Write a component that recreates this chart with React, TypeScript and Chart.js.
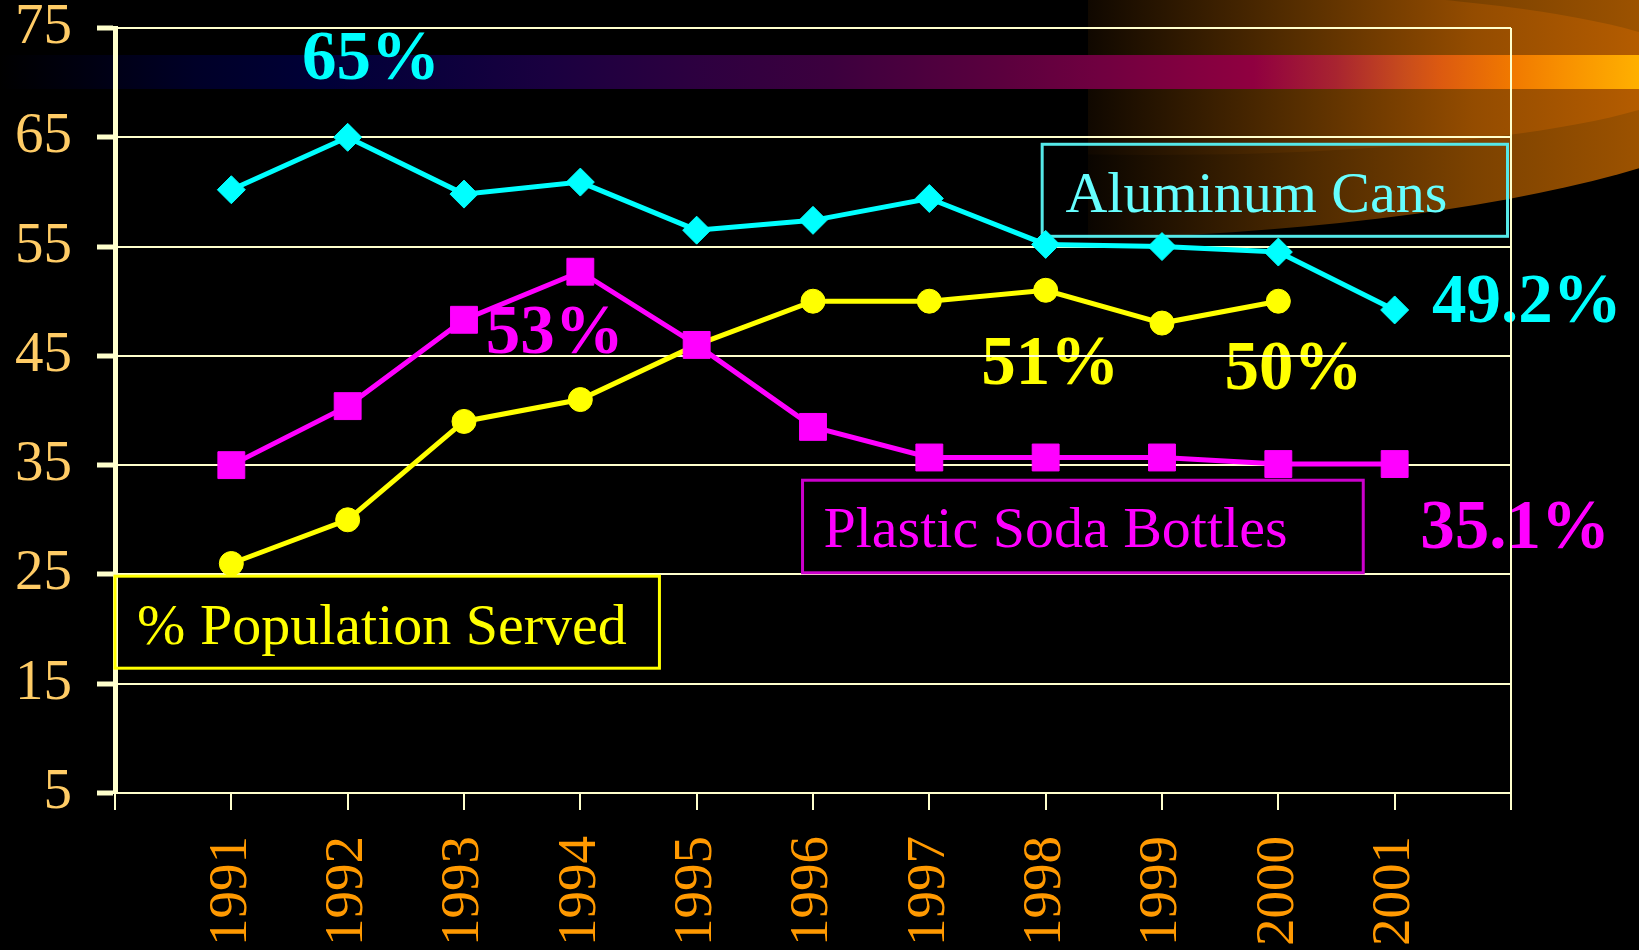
import React, { useEffect, useRef } from 'react';
import { Chart, registerables } from 'chart.js';

Chart.register(...registerables);

// ---- data ----
const years = ['1991', '1992', '1993', '1994', '1995', '1996', '1997', '1998', '1999', '2000', '2001'];
const aluminumCans = [60.2, 65.0, 59.8, 60.9, 56.5, 57.4, 59.4, 55.2, 55.0, 54.5, 49.2];
const plasticSodaBottles = [35.0, 40.4, 48.3, 52.7, 46.0, 38.5, 35.7, 35.7, 35.7, 35.1, 35.1];
const populationServed = [26.0, 30.0, 39.0, 41.0, 46.0, 50.0, 50.0, 51.0, 48.0, 50.0, null];
const yTickValues = [5, 15, 25, 35, 45, 55, 65, 75];

// value call-outs (year / value coordinates)
const callouts = [
  { text: '65%', color: '#00FFFF', year: 1992.2, value: 72.0, align: 'center' },
  { text: '53%', color: '#FF00FF', year: 1993.78, value: 46.9, align: 'center' },
  { text: '51%', color: '#FFFF00', year: 1998.04, value: 44.1, align: 'center' },
  { text: '50%', color: '#FFFF00', year: 2000.13, value: 43.6, align: 'center' },
  { text: '49.2%', color: '#00FFFF', year: 2001.32, value: 49.7, align: 'left' },
  { text: '35.1%', color: '#FF00FF', year: 2001.22, value: 29.05, align: 'left' },
];

// series label boxes
const seriesBoxes = [
  { text: 'Aluminum Cans', color: '#66FFFF', border: '#55E8E8', x0: 1997.97, x1: 2001.97, y0: 64.36, y1: 55.94, tx: 1998.17, ty: 58.14 },
  { text: 'Plastic Soda Bottles', color: '#FF00FF', border: '#CC00CC', x0: 1995.91, x1: 2000.73, y0: 33.62, y1: 25.15, tx: 1996.09, ty: 27.49 },
  { text: '% Population Served', color: '#FFFF00', border: '#FFFF00', x0: 1990.0, x1: 1994.68, y0: 24.84, y1: 16.42, tx: 1990.19, ty: 18.61 },
];

const FIRST_AXIS_YEAR = 1990;
const SERIF = "'Liberation Serif', 'Times New Roman', Times, serif";
const CREAM = '#FFFFCC';

const labels = ['', ...years, ''];
const pad = (arr: (number | null)[]) => [null, ...arr, null];

const backdropPlugin = {
  id: 'slideBackdrop',
  beforeDraw(chart: any) {
    const { ctx, width: W, height: H } = chart;
    ctx.save();
    ctx.fillStyle = '#000';
    ctx.fillRect(0, 0, W, H);

    // orange glow in the top-right corner
    ctx.save();
    ctx.beginPath();
    ctx.rect(1088, 0, W - 1088, H);
    ctx.clip();
    const g1 = ctx.createLinearGradient(1088, 0, W, 0);
    g1.addColorStop(0, '#0a0500');
    g1.addColorStop(0.4, '#4e2a00');
    g1.addColorStop(0.7, '#7c4200');
    g1.addColorStop(1, '#9c5200');
    ctx.fillStyle = g1;
    ctx.beginPath();
    ctx.ellipse(1000, 60, 800, 180, 0, 0, Math.PI * 2);
    ctx.fill();
    const g2 = ctx.createLinearGradient(1088, 0, W, 0);
    g2.addColorStop(0, '#100800');
    g2.addColorStop(0.4, '#5a3000');
    g2.addColorStop(0.7, '#944c00');
    g2.addColorStop(1, '#b45c00');
    ctx.fillStyle = g2;
    ctx.beginPath();
    ctx.ellipse(1150, 71, 552, 84, 0, 0, Math.PI * 2);
    ctx.fill();
    ctx.restore();

    // horizontal colour band
    const g3 = ctx.createLinearGradient(0, 0, W, 0);
    const stops: [number, string][] = [
      [0, '#000000'], [0.05, '#000010'], [0.12, '#000028'], [0.2, '#000038'],
      [0.27, '#0c003c'], [0.335, '#1a0040'], [0.42, '#2c0040'], [0.507, '#3c003e'],
      [0.614, '#5c003e'], [0.671, '#700040'], [0.765, '#900040'], [0.815, '#a82430'],
      [0.857, '#c84c1c'], [0.879, '#dc5a10'], [0.921, '#f07800'], [0.954, '#f89000'], [1, '#ffb000'],
    ];
    stops.forEach(([o, c]) => g3.addColorStop(o, c));
    ctx.fillStyle = g3;
    ctx.fillRect(0, 55, W, 34);

    // value call-outs (behind the grid)
    const xs = chart.scales.x;
    const ys = chart.scales.y;
    ctx.font = `bold 69px ${SERIF}`;
    ctx.textBaseline = 'middle';
    callouts.forEach((c) => {
      ctx.fillStyle = c.color;
      ctx.textAlign = c.align as CanvasTextAlign;
      ctx.fillText(c.text, xs.getPixelForValue(c.year - FIRST_AXIS_YEAR), ys.getPixelForValue(c.value));
    });
    ctx.restore();
  },
  beforeDatasetsDraw(chart: any) {
    const { ctx } = chart;
    const xs = chart.scales.x;
    const ys = chart.scales.y;
    ctx.save();
    ctx.font = `58px ${SERIF}`;
    ctx.textBaseline = 'alphabetic';
    ctx.textAlign = 'left';
    seriesBoxes.forEach((b) => {
      const l = xs.getPixelForValue(b.x0 - FIRST_AXIS_YEAR);
      const r = xs.getPixelForValue(b.x1 - FIRST_AXIS_YEAR);
      const t = ys.getPixelForValue(b.y0);
      const bt = ys.getPixelForValue(b.y1);
      ctx.strokeStyle = b.border;
      ctx.lineWidth = 3;
      ctx.strokeRect(l, t, r - l, bt - t);
      ctx.fillStyle = b.color;
      ctx.fillText(b.text, xs.getPixelForValue(b.tx - FIRST_AXIS_YEAR), ys.getPixelForValue(b.ty));
    });
    // right frame line of the plot
    const ca = chart.chartArea;
    ctx.strokeStyle = CREAM;
    ctx.lineWidth = 2;
    ctx.beginPath();
    ctx.moveTo(ca.right, ca.top);
    ctx.lineTo(ca.right, ca.bottom);
    ctx.stroke();
    ctx.restore();
  },
};

export default function App() {
  const canvasRef = useRef<HTMLCanvasElement | null>(null);

  useEffect(() => {
    const canvas = canvasRef.current;
    if (!canvas) return;
    const chart = new Chart(canvas, {
      type: 'line',
      data: {
        labels,
        datasets: [
          {
            label: 'Aluminum Cans',
            data: pad(aluminumCans),
            borderColor: '#00FFFF',
            backgroundColor: '#00FFFF',
            borderWidth: 5,
            pointStyle: 'rectRot',
            pointRadius: 14,
            pointBorderWidth: 1,
            pointBorderColor: '#00FFFF',
            pointBackgroundColor: '#00FFFF',
            tension: 0,
          },
          {
            label: 'Plastic Soda Bottles',
            data: pad(plasticSodaBottles),
            borderColor: '#FF00FF',
            backgroundColor: '#FF00FF',
            borderWidth: 5,
            pointStyle: 'rect',
            pointRadius: 19,
            pointBorderWidth: 1,
            pointBorderColor: '#FF00FF',
            pointBackgroundColor: '#FF00FF',
            tension: 0,
          },
          {
            label: '% Population Served',
            data: pad(populationServed),
            borderColor: '#FFFF00',
            backgroundColor: '#FFFF00',
            borderWidth: 5,
            pointStyle: 'circle',
            pointRadius: 12,
            pointBorderWidth: 1,
            pointBorderColor: '#FFFF00',
            pointBackgroundColor: '#FFFF00',
            tension: 0,
          },
        ],
      },
      options: {
        responsive: false,
        animation: false,
        events: [],
        layout: { padding: { top: 28, right: 128, left: 0, bottom: 0 } },
        plugins: { legend: { display: false }, tooltip: { enabled: false } },
        scales: {
          x: {
            type: 'category',
            offset: false,
            grid: {
              drawOnChartArea: false,
              drawTicks: true,
              tickLength: 17,
              color: CREAM,
              lineWidth: 2,
            },
            border: { display: true, color: CREAM, width: 2 },
            ticks: {
              autoSkip: false,
              maxRotation: 90,
              minRotation: 90,
              padding: 26,
              color: '#FF9900',
              font: { family: SERIF, size: 55 },
            },
            afterFit: (s: any) => {
              s.height = 157;
            },
          },
          y: {
            min: 5,
            max: 75,
            afterBuildTicks: (s: any) => {
              s.ticks = yTickValues.map((v) => ({ value: v }));
            },
            grid: {
              color: CREAM,
              lineWidth: 2,
              tickLength: 18,
              tickWidth: 5,
              tickColor: CREAM,
            },
            border: { display: true, color: CREAM, width: 5 },
            ticks: {
              padding: 25,
              color: '#FFCC66',
              font: { family: SERIF, size: 57, lineHeight: 0.05 },
            },
            afterFit: (s: any) => {
              s.width = 115;
            },
          },
        },
      },
      plugins: [backdropPlugin],
    });
    return () => chart.destroy();
  }, []);

  return (
    <div style={{ position: 'absolute', left: 0, top: 0, width: 1639, height: 950, background: '#000', overflow: 'hidden' }}>
      <canvas ref={canvasRef} width={1639} height={950} style={{ display: 'block' }} />
    </div>
  );
}
